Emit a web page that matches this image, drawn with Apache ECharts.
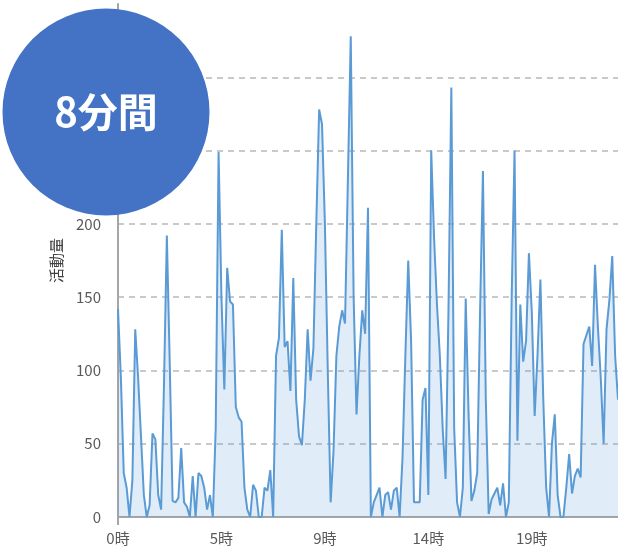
<!DOCTYPE html>
<html>
<head>
<meta charset="utf-8">
<script src="https://cdn.jsdelivr.net/npm/echarts@6/dist/echarts.min.js"></script>
<style>
  html, body { margin: 0; padding: 0; background: #fff; overflow: hidden; }
  #chart { width: 618px; height: 552px; }
</style>
</head>
<body>
<div id="chart"></div>
<script>
// 8分間ごとの活動量 (0時から)
const activity = [
  142, 95, 30, 20, 0, 25, 128, 95, 55, 15,
  0, 8, 57, 53, 15, 5, 90, 192, 105, 11,
  10, 13, 47, 10, 7, 0, 28, 0, 30, 28,
  20, 5, 15, 0, 60, 249, 150, 87, 170, 147,
  145, 75, 68, 65, 20, 5, 0, 22, 18, 0,
  0, 20, 18, 32, 0, 110, 122, 196, 116, 120,
  86, 163, 80, 55, 49, 80, 128, 93, 115, 200,
  278, 268, 200, 100, 10, 45, 110, 130, 141, 132,
  230, 328, 150, 70, 110, 141, 125, 211, 0, 10,
  15, 20, 0, 15, 17, 5, 18, 20, 0, 40,
  110, 175, 120, 10, 10, 10, 80, 88, 15, 250,
  190, 145, 110, 60, 26, 140, 293, 60, 10, 0,
  20, 149, 70, 11, 18, 30, 140, 236, 80, 2,
  12, 16, 20, 8, 23, 0, 10, 150, 250, 52,
  145, 106, 120, 180, 140, 69, 111, 162, 80, 20,
  0, 50, 70, 15, 0, 0, 20, 43, 16, 28,
  33, 27, 118, 124, 130, 103, 172, 130, 95, 50,
  128, 148, 178, 110, 80
]
const hourLabels = ['0時', '5時', '9時', '14時', '19時']
const labelStep = 36
const yTicks = [0, 50, 100, 150, 200, 250, 300, 350]

const slots = activity.map((v, i) => i)

const chart = echarts.init(document.getElementById('chart'), null, { renderer: 'canvas' })

chart.setOption({
  animation: false,
  grid: {
    left: 118,
    right: 0,
    top: 4,
    bottom: 35,
    containLabel: false
  },
  xAxis: {
    type: 'category',
    data: slots,
    boundaryGap: false,
    axisLine: { lineStyle: { color: '#a6a6a6', width: 2 } },
    axisTick: {
      show: true,
      length: 8,
      interval: (index) => index === 0,
      lineStyle: { color: '#a6a6a6', width: 2 }
    },
    axisLabel: {
      interval: (index) => index % labelStep === 0,
      margin: 14,
      fontSize: 15,
      color: '#595959',
      fontFamily: 'Noto Sans CJK JP',
      formatter: (value, index) => hourLabels[index / labelStep] || ''
    },
    splitLine: { show: false }
  },
  yAxis: {
    type: 'value',
    min: yTicks[0],
    max: yTicks[yTicks.length - 1],
    interval: 50,
    name: '活動量',
    nameLocation: 'middle',
    nameRotate: 90,
    nameGap: 54,
    nameTextStyle: {
      fontSize: 15,
      color: '#404040',
      fontFamily: 'Noto Sans CJK JP'
    },
    axisLine: { show: true, lineStyle: { color: '#a6a6a6', width: 2 } },
    axisTick: { show: false },
    axisLabel: {
      showMaxLabel: false,
      margin: 17,
      fontSize: 15,
      color: '#595959',
      fontFamily: 'Noto Sans CJK JP'
    },
    splitLine: {
      show: true,
      showMaxLine: false,
      lineStyle: { color: '#b8b8b8', width: 1.5, type: [6, 5] }
    }
  },
  series: [{
    name: '活動量',
    type: 'line',
    data: activity,
    showSymbol: false,
    smooth: false,
    lineStyle: { color: '#5b9bd5', width: 2 },
    areaStyle: { color: 'rgba(91,155,213,0.27)' }
  }],
  graphic: [{
    type: 'circle',
    z: 100,
    zlevel: 1,
    shape: { cx: 106, cy: 112, r: 103.5 },
    style: { fill: '#4472c4' }
  }, {
    type: 'text',
    z: 101,
    zlevel: 1,
    x: 106,
    y: 112,
    style: {
      text: '8分間',
      fill: '#ffffff',
      font: 'bold 40px "Noto Sans CJK JP"',
      align: 'center',
      verticalAlign: 'middle'
    }
  }]
})
</script>
</body>
</html>
